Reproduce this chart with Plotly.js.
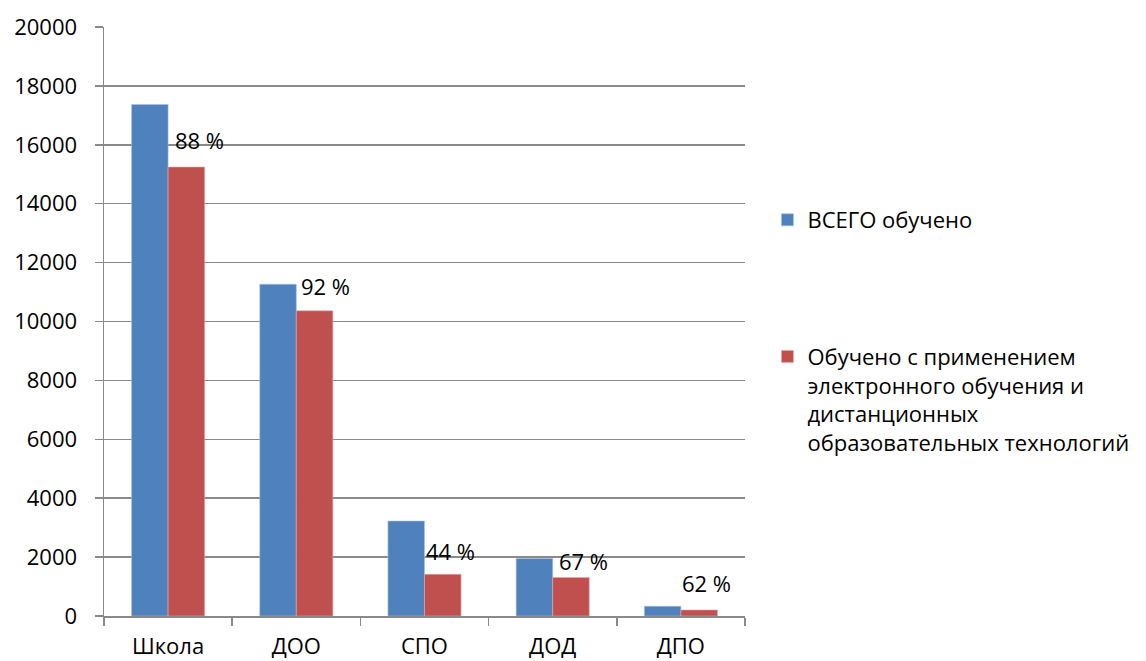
<!DOCTYPE html>
<html>
<head>
<meta charset="utf-8">
<script src="https://cdn.plot.ly/plotly-3.0.1.min.js"></script>
<style>html,body{margin:0;padding:0;background:#fff;}#chart{width:1146px;height:661px;}</style>
</head>
<body>
<div id="chart"></div>
<script>
const categories = ["Школа", "ДОО", "СПО", "ДОД", "ДПО"];
const totalTrained = [17370, 11265, 3225, 1950, 330];
const distanceTrained = [15245, 10365, 1415, 1310, 205];
const percentLabels = ["88 %", "92 %", "44 %", "67 %", "62 %"];
const seriesNames = ["ВСЕГО обучено", "Обучено с применением<br>электронного обучения и<br>дистанционных<br>образовательных технологий"];
const yTicks = [0, 2000, 4000, 6000, 8000, 10000, 12000, 14000, 16000, 18000, 20000];

// label offsets (pixels) relative to the top of the red bar
const labelDx = [31, 29, 26, 31, 26];
const labelDy = [27, 25, 23, 16, 27];

const FONT = "'Open Sans', 'Liberation Sans', sans-serif";
const GRID = "#8a8a8a";

const traces = [
  {type: "bar", x: categories, y: totalTrained, name: seriesNames[0], legendgroup: "a",
   marker: {color: "#4F81BD", line: {color: "#a9c1e0", width: 0.6}}, hoverinfo: "none"},
  {type: "bar", x: categories, y: distanceTrained, name: seriesNames[1], legendgroup: "b",
   marker: {color: "#C0504D", line: {color: "#e0a9a7", width: 0.6}}, hoverinfo: "none"}
];

const annotations = categories.map((c, i) => ({
  x: c, y: distanceTrained[i], xref: "x", yref: "y",
  text: percentLabels[i], showarrow: false,
  xanchor: "center", yanchor: "middle",
  xshift: labelDx[i], yshift: labelDy[i],
  font: {family: FONT, size: 22, color: "#000"}
}));

const layout = {
  width: 1146, height: 661,
  margin: {l: 104, r: 401, t: 27, b: 45, pad: 0},
  paper_bgcolor: "#fff", plot_bgcolor: "#fff",
  font: {family: FONT, size: 22, color: "#000"},
  barmode: "group", bargap: 0.43, bargroupgap: 0,
  showlegend: true,
  legend: {x: 1.035, xanchor: "left", y: 0.708, yanchor: "top", valign: "top",
           traceorder: "grouped", tracegroupgap: 105,
           font: {family: FONT, size: 22, color: "#000"}, bgcolor: "rgba(0,0,0,0)"},
  xaxis: {type: "category", showgrid: false, showline: true, linecolor: GRID, linewidth: 1.5,
          ticks: "outside", tickson: "boundaries", ticklen: 8, tickcolor: GRID, tickwidth: 1.5,
          ticklabelstandoff: 10, tickfont: {family: FONT, size: 22, color: "#000"}, fixedrange: true},
  yaxis: {range: [0, 20000], tickvals: yTicks, ticktext: yTicks.map(String),
          showgrid: true, gridcolor: GRID, gridwidth: 1.5, zeroline: false,
          showline: true, linecolor: GRID, linewidth: 1.5,
          ticks: "outside", ticklen: 8, tickcolor: GRID, tickwidth: 1.5,
          ticklabelstandoff: 13, tickfont: {family: FONT, size: 22, color: "#000"}, fixedrange: true},
  annotations: annotations
};

Plotly.newPlot("chart", traces, layout, {displayModeBar: false, staticPlot: true});
</script>
</body>
</html>
